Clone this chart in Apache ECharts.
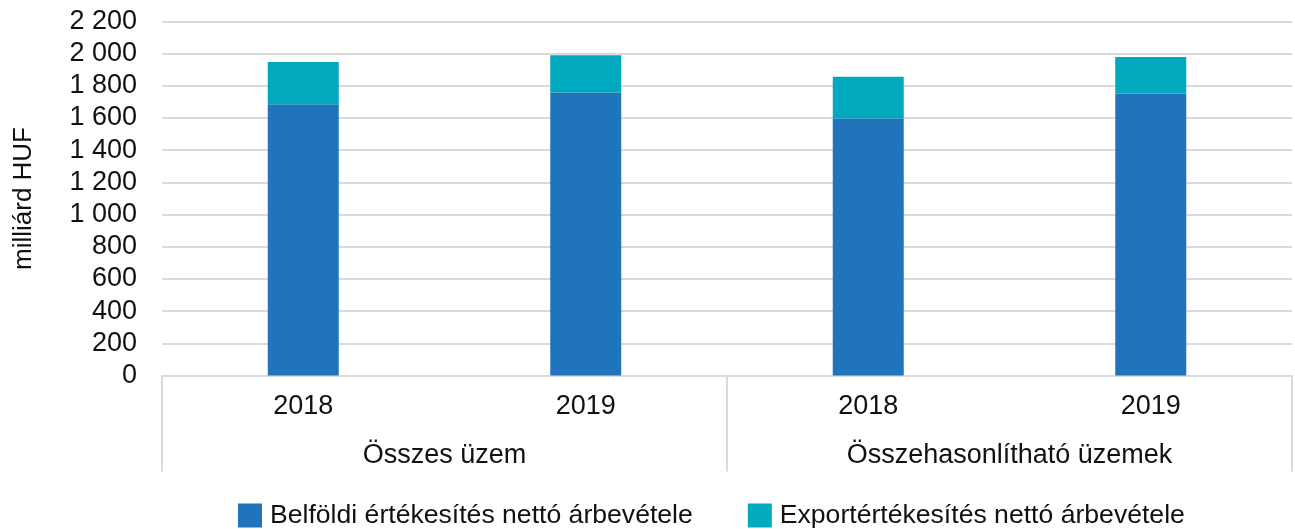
<!DOCTYPE html>
<html>
<head>
<meta charset="utf-8">
<script src="https://cdn.jsdelivr.net/npm/echarts@6/dist/echarts.min.js"></script>
<style>
  html, body { margin: 0; padding: 0; background: #fff; }
  #main { width: 1295px; height: 529px; }
</style>
</head>
<body>
<div id="main"></div>
<script>
var years = ['2018', '2019', '2018', '2019'];
var groups = ['Összes üzem', 'Összehasonlítható üzemek'];
var seriesNames = ['Belföldi értékesítés nettó árbevétele', 'Exportértékesítés nettó árbevétele'];
var belfoldi = [1686, 1759, 1597, 1753];
var export_ = [263, 232, 259, 227];

var font = 'Liberation Sans, Arial, sans-serif';
var gridColor = '#dadada';
var textColor = '#111';

var myChart = echarts.init(document.getElementById('main'));

// szóköz ezres elválasztó
function fmt(v) {
    return String(v).replace(/\B(?=(\d{3})+(?!\d))/g, ' ');
}

var option = {
    animation: false,
    textStyle: { fontFamily: font },
    grid: { left: 162, right: 3, top: 21.5, bottom: 153.5 },
    legend: {
        left: 233,
        top: 497,
        itemWidth: 24,
        itemHeight: 24,
        itemGap: 55,
        icon: 'rect',
        textStyle: { fontSize: 26.6, color: textColor, fontFamily: font, padding: [0, 0, 0, 3] },
        data: seriesNames
    },
    xAxis: [{
        type: 'category',
        data: years,
        axisLine: { lineStyle: { color: gridColor, width: 2 } },
        axisTick: { show: false },
        axisLabel: { fontSize: 27, color: textColor, margin: 18 }
    }, {
        type: 'category',
        data: groups,
        position: 'bottom',
        axisLine: { show: false },
        axisTick: { show: true, length: 96, interval: 0, lineStyle: { color: gridColor, width: 2 } },
        axisLabel: { fontSize: 27, color: textColor, margin: 67 }
    }],
    yAxis: {
        type: 'value',
        min: 0,
        max: 2200,
        interval: 200,
        name: 'milliárd HUF',
        nameLocation: 'middle',
        nameRotate: 90,
        nameGap: 125,
        nameTextStyle: { fontSize: 26, color: textColor },
        axisLine: { show: false },
        axisTick: { show: false },
        axisLabel: { fontSize: 27, color: textColor, margin: 25, formatter: fmt },
        splitLine: { lineStyle: { color: gridColor, width: 2 } }
    },
    series: [{
        name: seriesNames[0],
        type: 'bar',
        stack: 'total',
        barWidth: 71,
        itemStyle: { color: '#1f74bb' },
        data: belfoldi
    }, {
        name: seriesNames[1],
        type: 'bar',
        stack: 'total',
        barWidth: 71,
        itemStyle: { color: '#00a9bd' },
        data: export_
    }]
};
myChart.setOption(option);
</script>
</body>
</html>
